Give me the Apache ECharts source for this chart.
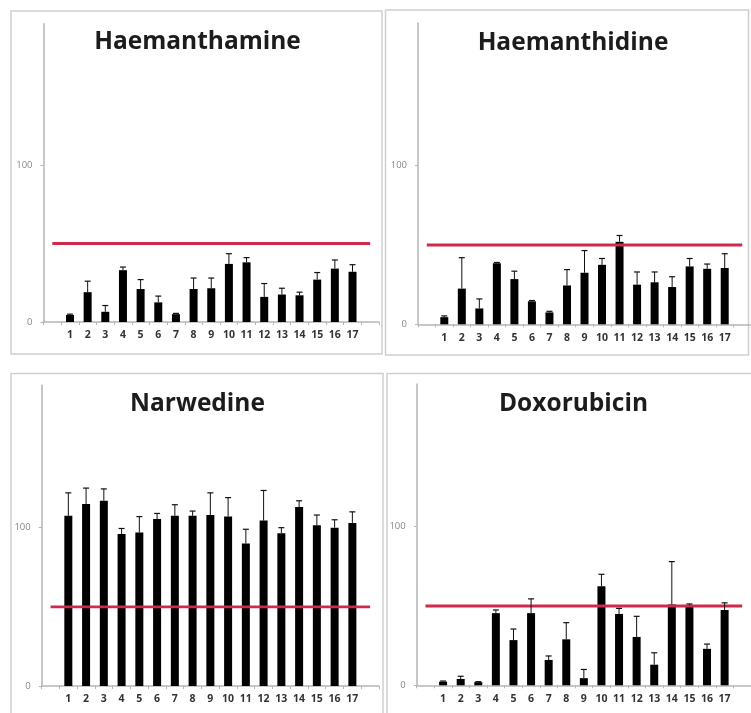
<!DOCTYPE html>
<html>
<head>
<meta charset="utf-8">
<script src="https://cdn.jsdelivr.net/npm/echarts@6/dist/echarts.min.js"></script>
<style>
html,body{margin:0;padding:0;background:#fff;}
#chart{width:751px;height:713px;}
</style>
</head>
<body>
<div id="chart"></div>
<script>
// ---- data ----
const categories = ['1','2','3','4','5','6','7','8','9','10','11','12','13','14','15','16','17'];
const titles = ['Haemanthamine','Haemanthidine','Narwedine','Doxorubicin'];
const haemanthamineValues = [4.5, 19, 6.5, 33, 21, 12.5, 5, 21, 21.5, 37, 38, 16, 17.5, 17, 27, 34, 32];
const haemanthamineErrors = [0.5, 7, 4, 2, 6, 4, 0.5, 7, 6.5, 6.5, 3, 8.5, 4, 2, 4.5, 5.5, 4.5];
const haemanthidineValues = [4.5, 22.5, 10, 38.5, 28.5, 14.5, 7.5, 24.5, 32.5, 37.5, 52, 25, 26.5, 23.5, 36.5, 35, 35.5];
const haemanthidineErrors = [0.8, 19.5, 6, 0.5, 5, 0.5, 0.7, 10, 14, 4, 4, 8, 6.5, 6.5, 5, 3, 9];
const narwedineValues = [107.5, 115, 117, 96, 97, 105.5, 107.5, 107.5, 108, 107, 90, 104.5, 96.5, 113, 101.5, 100, 103];
const narwedineErrors = [14.5, 10, 7.5, 3.5, 10, 3.5, 7, 3, 14, 12, 9, 19, 3.5, 4, 6.5, 5, 7];
const doxorubicinValues = [2.3, 4, 2, 45.5, 28.5, 45.5, 16, 29, 4.5, 62.5, 45, 30.5, 13, 51, 50.5, 23, 47.5];
const doxorubicinErrors = [0.4, 1.7, 0.3, 2, 7, 9, 2.5, 10.5, 5.5, 7.5, 3.5, 13, 7.5, 27, 0.8, 3, 4.5];
const threshold = 50;
const yTicks = [0, 100];
const yMax = 190;

const panelValues = [haemanthamineValues, haemanthidineValues, narwedineValues, doxorubicinValues];
const panelErrors = [haemanthamineErrors, haemanthidineErrors, narwedineErrors, doxorubicinErrors];

// ---- layout ----
const grids = [
  {left: 43.5, top: 23.7, width: 335.5, height: 298.3},
  {left: 418, top: 23, width: 340, height: 301.3},
  {left: 41.7, top: 385.2, width: 337.3, height: 300.8},
  {left: 416.7, top: 384, width: 339.3, height: 301.3}
];
const titlePos = [
  {x: 197.5, y: 30},
  {x: 573, y: 31},
  {x: 197.5, y: 392},
  {x: 573.5, y: 392}
];

const paddedCats = [''].concat(categories, ['']);

const option = {
  backgroundColor: '#ffffff',
  animation: false,
  title: titles.map((t, i) => ({
    text: t,
    left: titlePos[i].x,
    top: titlePos[i].y,
    textAlign: 'center',
    padding: 0,
    textStyle: {fontFamily: 'Open Sans', fontWeight: 'bold', fontSize: 24.5, color: '#1c1c1c'}
  })),
  graphic: [
    {type: 'rect', shape: {x: 11, y: 11, width: 371, height: 343}, style: {fill: 'none', stroke: '#cfcfcf', lineWidth: 1.5}, silent: true, z: -1},
    {type: 'rect', shape: {x: 385.5, y: 10, width: 363, height: 345}, style: {fill: 'none', stroke: '#cfcfcf', lineWidth: 1.5}, silent: true, z: -1},
    {type: 'rect', shape: {x: 11, y: 373.5, width: 372, height: 360}, style: {fill: 'none', stroke: '#cfcfcf', lineWidth: 1.5}, silent: true, z: -1},
    {type: 'rect', shape: {x: 387, y: 373.5, width: 380, height: 360}, style: {fill: 'none', stroke: '#cfcfcf', lineWidth: 1.5}, silent: true, z: -1}
  ],
  grid: grids.map(g => Object.assign({containLabel: false}, g)),
  xAxis: grids.map((g, i) => ({
    type: 'category',
    gridIndex: i,
    data: paddedCats,
    boundaryGap: true,
    axisLine: {lineStyle: {color: '#b5b5b5', width: 1.5}},
    axisTick: {show: true, length: 3, lineStyle: {color: '#b5b5b5'}},
    axisLabel: {interval: 0, margin: 8, fontFamily: 'Open Sans', fontWeight: 'bold', fontSize: 10.5, color: '#333'},
    splitLine: {show: false}
  })),
  yAxis: grids.map((g, i) => ({
    type: 'value',
    gridIndex: i,
    min: 0,
    max: yMax,
    interval: 100,
    axisLine: {show: true, lineStyle: {color: '#b5b5b5', width: 1.5}},
    axisTick: {show: true, length: 3, customValues: yTicks, lineStyle: {color: '#b5b5b5'}},
    axisLabel: {customValues: yTicks, margin: 11, fontFamily: 'Open Sans', fontSize: 9.5, color: '#888'},
    splitLine: {show: false}
  })),
  series: []
};

panelValues.forEach((vals, i) => {
  const errs = panelErrors[i];
  option.series.push({
    type: 'bar',
    xAxisIndex: i, yAxisIndex: i,
    barWidth: 8,
    itemStyle: {color: '#000'},
    data: ['-'].concat(vals, ['-']),
    z: 3
  });
  option.series.push({
    type: 'line',
    xAxisIndex: i, yAxisIndex: i,
    data: [[0, threshold], [paddedCats.length - 1, threshold]],
    symbol: 'none',
    lineStyle: {color: '#cf2a4b', width: 2.8},
    z: 4
  });
  option.series.push({
    type: 'custom',
    xAxisIndex: i, yAxisIndex: i,
    data: vals.map((v, k) => [k + 1, v, v + errs[k]]),
    renderItem: function (params, api) {
      const x = api.value(0);
      const lo = api.coord([x, api.value(1)]);
      const hi = api.coord([x, api.value(2)]);
      const cw = 3;
      return {
        type: 'group',
        children: [
          {type: 'line', shape: {x1: lo[0], y1: lo[1], x2: hi[0], y2: hi[1]}, style: {stroke: '#111', lineWidth: 1}},
          {type: 'line', shape: {x1: hi[0] - cw, y1: hi[1], x2: hi[0] + cw, y2: hi[1]}, style: {stroke: '#111', lineWidth: 1.2}}
        ]
      };
    },
    z: 5
  });
});

const chart = echarts.init(document.getElementById('chart'), null, {renderer: 'canvas'});
chart.setOption(option);
</script>
</body>
</html>
